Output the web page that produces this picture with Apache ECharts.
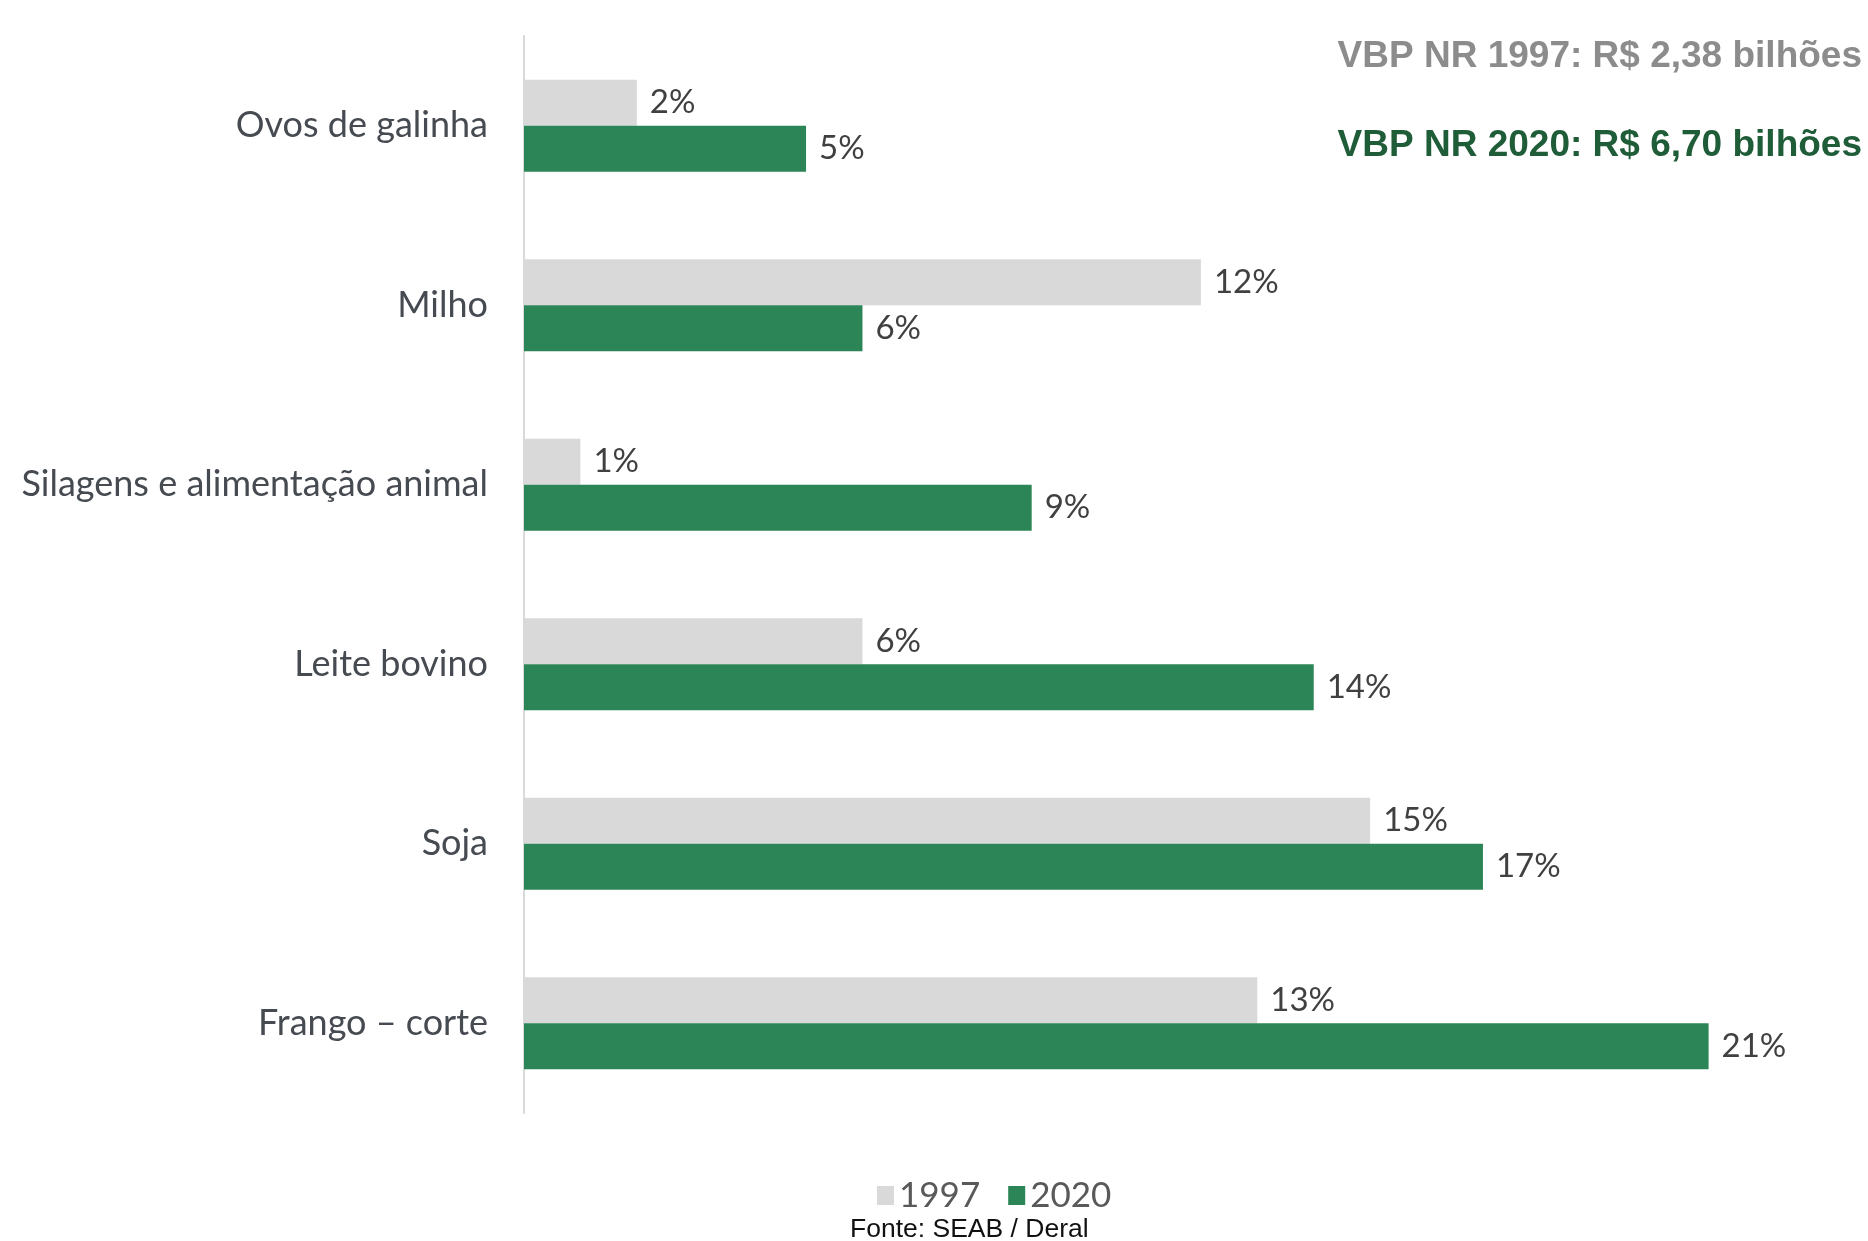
<!DOCTYPE html>
<html>
<head>
<meta charset="utf-8">
<script src="https://cdn.jsdelivr.net/npm/echarts@6/dist/echarts.min.js"></script>
<style>
  html, body { margin: 0; padding: 0; background: #fff; }
  #chart { width: 1868px; height: 1241px; }
</style>
</head>
<body>
<div id="chart"></div>
<script>
// categorias (de cima para baixo)
var categorias = ['Ovos de galinha', 'Milho', 'Silagens e alimentação animal', 'Leite bovino', 'Soja', 'Frango – corte']
// participação no VBP (%)
var valores1997 = [2, 12, 1, 6, 15, 13]
var valores2020 = [5, 6, 9, 14, 17, 21]
var anos = ['1997', '2020']
var totais = ['VBP NR 1997: R$ 2,38 bilhões', 'VBP NR 2020: R$ 6,70 bilhões']
var fonte = 'Fonte: SEAB / Deral'

var corCinza = '#d9d9d9'
var corVerde = '#2b8556'
var fonteRotulo = "Lato, 'Noto Sans', sans-serif"

var chart = echarts.init(document.getElementById('chart'))

var rotulo = {
    show: true,
    position: 'right',
    distance: 13,
    formatter: '{c}%',
    color: '#404040',
    fontFamily: fonteRotulo,
    fontSize: 33
}

chart.setOption({
    animation: false,
    grid: {
        left: 524,
        top: 36,
        width: 1241,
        height: 1077,
        outerBoundsMode: 'none',
        containLabel: false
    },
    xAxis: {
        type: 'value',
        min: 0,
        max: 22,
        show: false,
        splitLine: { show: false }
    },
    yAxis: {
        type: 'category',
        inverse: true,
        data: categorias,
        axisLine: { show: true, lineStyle: { color: '#d9d9d9', width: 2 } },
        axisTick: { show: false },
        axisLabel: {
            margin: 36,
            color: '#464a51',
            fontFamily: fonteRotulo,
            fontSize: 36
        }
    },
    legend: {
        data: anos,
        left: 872,
        top: 1173,
        icon: 'rect',
        itemWidth: 17,
        itemHeight: 19,
        itemGap: 28,
        textStyle: {
            color: '#595959',
            fontFamily: fonteRotulo,
            fontSize: 35
        }
    },
    series: [
        {
            name: anos[0],
            type: 'bar',
            data: valores1997,
            barWidth: 46,
            barGap: '0%',
            itemStyle: { color: corCinza },
            label: rotulo
        },
        {
            name: anos[1],
            type: 'bar',
            data: valores2020,
            barWidth: 46,
            barGap: '0%',
            itemStyle: { color: corVerde },
            label: rotulo
        }
    ],
    graphic: [
        {
            type: 'text',
            x: 1862,
            y: 57,
            style: {
                text: totais[0],
                align: 'right',
                verticalAlign: 'middle',
                fill: '#8c8c8c',
                fontFamily: "'Liberation Sans', Arial, sans-serif",
                fontWeight: 'bold',
                fontSize: 37
            }
        },
        {
            type: 'text',
            x: 1862,
            y: 146,
            style: {
                text: totais[1],
                align: 'right',
                verticalAlign: 'middle',
                fill: '#1f5c38',
                fontFamily: "'Liberation Sans', Arial, sans-serif",
                fontWeight: 'bold',
                fontSize: 37
            }
        },
        {
            type: 'text',
            x: 850,
            y: 1230,
            style: {
                text: fonte,
                align: 'left',
                verticalAlign: 'middle',
                fill: '#111',
                fontFamily: "'Liberation Sans', Arial, sans-serif",
                fontSize: 26.5
            }
        }
    ]
})
</script>
</body>
</html>
